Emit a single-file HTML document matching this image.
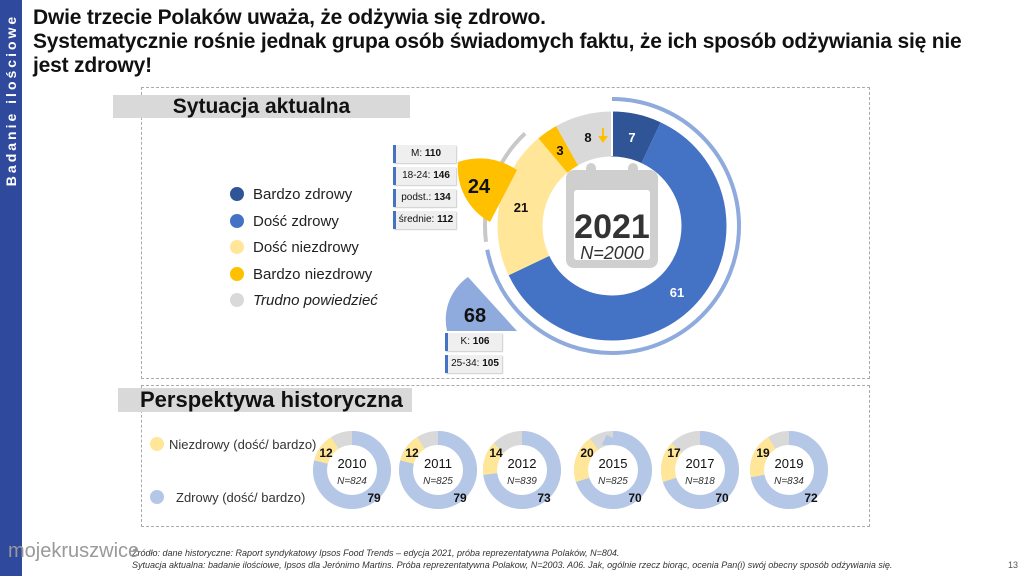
<!DOCTYPE html>
<html><head><meta charset="utf-8"><style>
body{margin:0;width:1024px;height:576px;overflow:hidden;background:#fff;font-family:"Liberation Sans",sans-serif;position:relative}
.abs{position:absolute}
.t{left:33px;top:6px;font-weight:bold;font-size:21px;line-height:24px;color:#111;letter-spacing:-0.2px}
.hdr{background:#d9d9d9;font-weight:bold;font-size:21px;color:#111}
.lb{background:#efefef;border-left:3px solid #4472c4;font-size:10px;height:18px;line-height:18px;text-align:center;color:#111;box-shadow:1px 1px 1px #ccc}
</style></head><body>
<div class="abs" style="left:0;top:0;width:22px;height:576px;background:#2f4a9c"></div>
<div class="abs" style="left:11px;top:100px;transform:translate(-50%,-50%) rotate(-90deg);color:#fff;font-weight:bold;font-size:14px;letter-spacing:3px;white-space:nowrap">Badanie ilościowe</div>
<div class="abs t">Dwie trzecie Polaków uważa, że odżywia się zdrowo.<br>Systematycznie rośnie jednak grupa osób świadomych faktu, że ich sposób odżywiania się nie<br>jest zdrowy!</div>
<div class="abs" style="left:141px;top:87px;width:727px;height:290px;border:1px dashed #aaa"></div>
<div class="abs" style="left:141px;top:385px;width:727px;height:140px;border:1px dashed #aaa"></div>
<div class="abs hdr" style="left:113px;top:95px;width:297px;height:23px;line-height:23px;text-align:center">Sytuacja aktualna</div>
<div class="abs hdr" style="left:118px;top:388px;width:294px;height:24px;line-height:24px;padding-left:22px;box-sizing:border-box;font-size:22px">Perspektywa historyczna</div>
<svg class="abs" style="left:0;top:0" width="1024" height="576">
<g font-family="Liberation Sans" font-size="15" fill="#222">
<circle cx="237" cy="194" r="7" fill="#2f5597"/><text x="253" y="199">Bardzo zdrowy</text>
<circle cx="237" cy="221" r="7" fill="#4472c4"/><text x="253" y="226">Dość zdrowy</text>
<circle cx="237" cy="247" r="7" fill="#ffe699"/><text x="253" y="252">Dość niezdrowy</text>
<circle cx="237" cy="274" r="7" fill="#ffc000"/><text x="253" y="279">Bardzo niezdrowy</text>
<circle cx="237" cy="300" r="7" fill="#d9d9d9"/><text x="253" y="305" font-style="italic">Trudno powiedzieć</text>
</g>
<g transform="rotate(-90 612 226)" fill="none">
<circle cx="612" cy="226" r="127" pathLength="100" stroke="#8faadc" stroke-width="4" stroke-dasharray="72 28"/>
<circle cx="612" cy="226" r="127" pathLength="100" stroke="#c8c8c8" stroke-width="4" stroke-dasharray="15 85" stroke-dashoffset="-73"/>
</g>
<g transform="rotate(-90 612 226)" fill="none" stroke-width="45">
<circle cx="612" cy="226" r="92" pathLength="100" stroke="#2f5597" stroke-dasharray="7 93"/>
<circle cx="612" cy="226" r="92" pathLength="100" stroke="#4472c4" stroke-dasharray="61 39" stroke-dashoffset="-7"/>
<circle cx="612" cy="226" r="92" pathLength="100" stroke="#ffe699" stroke-dasharray="21 79" stroke-dashoffset="-68"/>
<circle cx="612" cy="226" r="92" pathLength="100" stroke="#ffc000" stroke-dasharray="3 97" stroke-dashoffset="-89"/>
<circle cx="612" cy="226" r="92" pathLength="100" stroke="#d9d9d9" stroke-dasharray="8 92" stroke-dashoffset="-92"/>
</g>
<g stroke="#fff" stroke-width="2"><line x1="612" y1="111" x2="612" y2="156"/></g>
<rect x="566" y="170" width="92" height="98" rx="8" fill="#cfcfcf"/>
<rect x="574" y="190" width="76" height="70" rx="3" fill="#fff"/>
<rect x="586" y="163" width="10" height="22" rx="5" fill="#cfcfcf"/>
<rect x="628" y="163" width="10" height="22" rx="5" fill="#cfcfcf"/>
<text x="612" y="238" text-anchor="middle" font-weight="bold" font-size="34" fill="#333">2021</text>
<text x="612" y="259" text-anchor="middle" font-style="italic" font-size="18" fill="#333">N=2000</text>
<g font-weight="bold" font-size="13" text-anchor="middle">
<text x="632" y="142" fill="#fff">7</text>
<text x="677" y="297" fill="#fff">61</text>
<text x="521" y="212" fill="#111">21</text>
<text x="560" y="155" fill="#111">3</text>
<text x="588" y="142" fill="#111">8</text>
</g>
<path d="M602 128 v8 h-4 l5 7 l5 -7 h-4 v-8z" fill="#ffc000"/>
<path d="M517 170 L490 222 A62 62 0 0 1 458 162 Q490 152 517 170 Z" fill="#ffc000"/>
<text x="479" y="193" text-anchor="middle" font-weight="bold" font-size="20" fill="#111">24</text>
<path d="M468 277 L517 331 L447 331 A52 52 0 0 1 468 277 Z" fill="#8faadc"/>
<text x="475" y="322" text-anchor="middle" font-weight="bold" font-size="20" fill="#111">68</text>
<g font-size="12" text-anchor="middle" font-family="Liberation Sans">
<circle cx="157" cy="444" r="7" fill="#ffe699"/><text x="169" y="449" text-anchor="start" font-size="13" fill="#333">Niezdrowy (dość/ bardzo)</text>
<circle cx="157" cy="497" r="7" fill="#b4c7e7"/><text x="176" y="502" text-anchor="start" font-size="13" fill="#333">Zdrowy (dość/ bardzo)</text>
</g>
</svg>
<svg class="abs" style="left:0;top:0" width="1024" height="576" id="sd"></svg>
<div class="abs lb" style="left:393px;top:145px;width:60px"><span>M: <b>110</b></span></div>
<div class="abs lb" style="left:393px;top:167px;width:60px">18-24: <b>146</b></div>
<div class="abs lb" style="left:393px;top:189px;width:60px">podst.: <b>134</b></div>
<div class="abs lb" style="left:393px;top:211px;width:60px">średnie: <b>112</b></div>
<div class="abs lb" style="left:445px;top:333px;width:54px">K: <b>106</b></div>
<div class="abs lb" style="left:445px;top:355px;width:54px">25-34: <b>105</b></div>
<div class="abs" style="left:132px;top:547px;font-size:9px;font-style:italic;color:#333;line-height:12px">Źródło: dane historyczne: Raport syndykatowy Ipsos Food Trends – edycja 2021, próba reprezentatywna Polaków, N=804.<br>Sytuacja aktualna: badanie ilościowe, Ipsos dla Jerónimo Martins. Próba reprezentatywna Polakow, N=2003. A06. Jak, ogólnie rzecz biorąc, ocenia Pan(i) swój obecny sposób odżywiania się.</div>
<div class="abs" style="left:1008px;top:560px;font-size:9px;color:#555">13</div>
<div class="abs" style="left:8px;top:540px;font-size:20px;color:#999">mojekruszwice</div>
<script>
var d=[[352,79,12,"2010","N=824"],[438,79,12,"2011","N=825"],[522,73,14,"2012","N=839"],[613,70,20,"2015","N=825"],[700,70,17,"2017","N=818"],[789,72,19,"2019","N=834"]];
var s="";
d.forEach(function(a){var x=a[0],y=470;
s+='<g transform="rotate(-90 '+x+' '+y+')" fill="none" stroke-width="14">'+
'<circle cx="'+x+'" cy="'+y+'" r="32" pathLength="100" stroke="#d9d9d9"/>'+
'<circle cx="'+x+'" cy="'+y+'" r="32" pathLength="100" stroke="#b4c7e7" stroke-dasharray="'+a[1]+' '+(100-a[1])+'"/>'+
'<circle cx="'+x+'" cy="'+y+'" r="32" pathLength="100" stroke="#ffe699" stroke-dasharray="'+a[2]+' '+(100-a[2])+'" stroke-dashoffset="-'+a[1]+'"/></g>'+
'<text x="'+x+'" y="468" text-anchor="middle" font-size="13" fill="#111" font-family="Liberation Sans">'+a[3]+'</text>'+
'<text x="'+x+'" y="484" text-anchor="middle" font-size="10" font-style="italic" fill="#333" font-family="Liberation Sans">'+a[4]+'</text>'+
'<text x="'+(x+22)+'" y="502" text-anchor="middle" font-size="12" font-weight="bold" fill="#111" font-family="Liberation Sans">'+a[1]+'</text>'+
'<text x="'+(x-26)+'" y="457" text-anchor="middle" font-size="12" font-weight="bold" fill="#111" font-family="Liberation Sans">'+a[2]+'</text>';});
document.getElementById("sd").innerHTML=s;
</script>
</body></html>
